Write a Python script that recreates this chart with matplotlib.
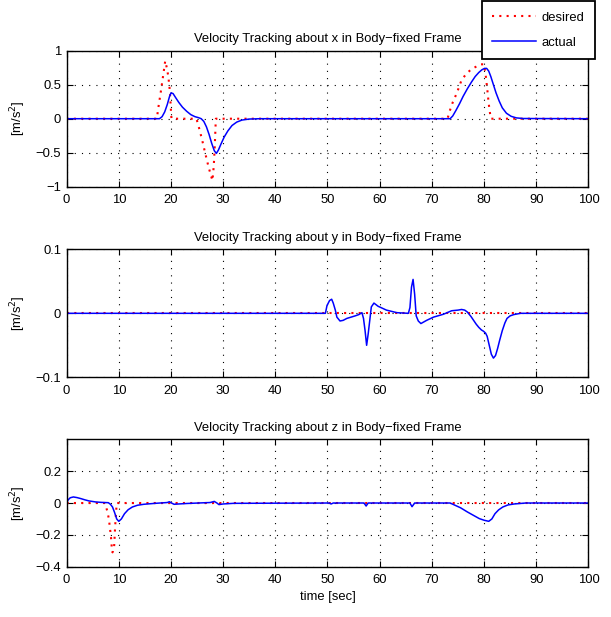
import matplotlib
matplotlib.use("Agg")
import matplotlib.pyplot as plt

plt.rcParams['font.family'] = ['Liberation Sans', 'DejaVu Sans']
plt.rcParams['axes.unicode_minus'] = True

# ---- x axis (surge) ----
tx_des = [0, 17.3, 17.5, 17.8, 18.1, 18.4, 18.7, 18.9, 19.2, 19.5, 19.8, 20.0, 20.1,
          24.9, 25.1, 25.4, 25.7, 26.0, 26.3, 26.6, 26.9, 27.2, 27.5, 27.8, 27.95, 28.2, 28.4, 28.6,
          73.0, 73.5, 74.0, 74.8, 75.7, 76.6, 77.6, 78.6, 79.4, 80.0, 80.3, 80.6, 80.9, 81.2, 81.3, 100]
vx_des = [0, 0, 0.12, 0.27, 0.42, 0.58, 0.74, 0.85, 0.75, 0.62, 0.40, 0.12, 0,
          0, -0.06, -0.14, -0.23, -0.32, -0.42, -0.52, -0.61, -0.71, -0.79, -0.87, -0.91, -0.70, -0.40, 0,
          0, 0.13, 0.24, 0.38, 0.57, 0.66, 0.73, 0.77, 0.80, 0.80, 0.65, 0.45, 0.22, 0.05, 0, 0]
tx_act = [0, 17.8, 18.3, 18.8, 19.3, 19.7, 20.0, 20.4, 20.9, 21.5, 22.2, 23.0, 23.8, 24.6, 25.3,
          25.8, 26.3, 26.8, 27.3, 27.8, 28.3, 28.7, 29.1, 29.6, 30.2, 30.9, 31.7, 32.6, 33.6, 35.0, 37.0,
          73.5, 74.0, 74.6, 75.3, 76.0, 76.8, 77.6, 78.3, 79.0, 79.6, 80.1, 80.5, 80.9, 81.3, 81.8,
          82.3, 82.9, 83.5, 84.3, 85.2, 86.2, 87.5, 100]
vx_act = [0, 0, 0.03, 0.10, 0.21, 0.32, 0.38, 0.37, 0.31, 0.24, 0.17, 0.11, 0.06, 0.03, 0.015,
          0.0, -0.04, -0.12, -0.23, -0.36, -0.47, -0.51, -0.46, -0.37, -0.27, -0.18, -0.10, -0.05, -0.02, -0.005, 0,
          0, 0.04, 0.12, 0.22, 0.33, 0.44, 0.54, 0.62, 0.68, 0.72, 0.74, 0.74, 0.70, 0.62, 0.50,
          0.38, 0.26, 0.16, 0.08, 0.035, 0.012, 0.003, 0]

# ---- y axis (sway) ----
ty_des = [0, 100]
vy_des = [0, 0]
ty_act = [0, 49.6, 49.9, 50.4, 50.8, 51.1, 51.5, 51.8, 52.4, 53.0, 53.7, 54.5, 55.3, 56.0, 56.6,
          56.9, 57.2, 57.5, 57.8, 58.1, 58.4, 58.9, 59.7, 60.5, 61.3, 62.3, 63.3, 65.5,
          65.8, 66.1, 66.4, 66.7, 67.0, 67.4, 67.9, 69.0, 70.3, 72.2, 73.8, 75.0, 75.7, 76.3,
          76.8, 77.5, 78.0, 78.5, 79.0, 79.5, 79.9, 80.3, 80.6, 81.0, 81.4, 81.8, 82.2, 82.6,
          83.0, 83.5, 84.0, 84.4, 85.0, 85.7, 87.0, 100]
vy_act = [0, 0, 0.012, 0.020, 0.022, 0.016, 0.005, -0.006, -0.012, -0.011, -0.008, -0.006, -0.004, -0.002, 0.001,
          -0.008, -0.027, -0.050, -0.032, -0.011, 0.010, 0.016, 0.011, 0.008, 0.005, 0.003, 0.001, 0,
          0.009, 0.041, 0.053, 0.030, -0.004, -0.012, -0.016, -0.011, -0.006, -0.0015, 0.004, 0.005, 0.006, 0.005,
          0.002, -0.005, -0.011, -0.017, -0.022, -0.026, -0.028, -0.031, -0.036, -0.050, -0.064, -0.070, -0.066, -0.055,
          -0.042, -0.027, -0.015, -0.008, -0.004, -0.002, 0, 0]

# ---- z axis (heave) ----
tz_des = [0, 7.3, 7.8, 8.1, 8.3, 8.5, 8.7, 8.8, 9.1, 9.3, 9.6, 100]
vz_des = [0, 0, -0.05, -0.10, -0.155, -0.21, -0.30, -0.31, -0.28, -0.15, 0, 0]
tz_act = [0, 0.3, 0.7, 1.3, 2.0, 2.8, 3.5, 4.3, 5.5, 6.6, 8.0, 8.4, 8.8, 9.2, 9.6, 10.0, 10.5, 11.1, 11.8, 12.6,
          13.6, 14.8, 17.0, 19.3, 19.7, 20.1, 20.6, 21.5, 23.0, 27.5, 28.3, 28.8, 29.2, 30.0, 32.0, 50.3, 50.7, 51.1,
          57.0, 57.4, 57.8, 65.8, 66.2, 66.7, 73.5, 74.5, 75.5, 76.8, 78.0, 79.1, 80.0, 80.9, 81.5, 82.1,
          82.8, 83.6, 84.6, 85.8, 88.0, 100]
vz_act = [0, 0.02, 0.033, 0.038, 0.034, 0.027, 0.02, 0.013, 0.007, 0.004, 0.002, -0.008, -0.025, -0.06, -0.1,
          -0.115, -0.1, -0.067, -0.042, -0.025, -0.014, -0.008, -0.002, 0.003, 0.008, 0.0, -0.008, -0.006, -0.003,
          0.003, 0.01, 0.0, -0.01, -0.006, -0.002, 0, -0.006, 0, 0, -0.019, 0, 0, -0.023, 0, 0, -0.015, -0.03,
          -0.056, -0.078, -0.098, -0.108, -0.115, -0.1, -0.067, -0.043, -0.025, -0.012, -0.006, 0, 0]

titles = ['Velocity Tracking about x in Body\u2212fixed Frame',
          'Velocity Tracking about y in Body\u2212fixed Frame',
          'Velocity Tracking about z in Body\u2212fixed Frame']
yticks = [[-1, -0.5, 0, 0.5, 1], [-0.1, 0, 0.1], [-0.4, -0.2, 0, 0.2]]
ytick_labels = [['\u22121', '\u22120.5', '0', '0.5', '1'],
                ['\u22120.1', '0', '0.1'],
                ['\u22120.4', '\u22120.2', '0', '0.2']]
ylims = [(-1, 1), (-0.1, 0.1), (-0.4, 0.4)]
xticks = list(range(0, 101, 10))

series = [(tx_des, vx_des, tx_act, vx_act),
          (ty_des, vy_des, ty_act, vy_act),
          (tz_des, vz_des, tz_act, vz_act)]

fs = 9.4
fig = plt.figure(figsize=(6.11, 6.17), dpi=100)
boxes = [[0.109, 0.6974, 0.854, 0.2204],
         [0.109, 0.3885, 0.854, 0.2074],
         [0.109, 0.0815, 0.854, 0.2065]]

axes = []
for i in range(3):
    ax = fig.add_axes(boxes[i])
    td, vd, ta, va = series[i]
    ax.plot(td, vd, color='red', lw=1.5, linestyle=(0, (1, 2.5)), label='desired')
    ax.plot(ta, va, color='blue', lw=1.1, label='actual')
    ax.set_xlim(0, 100)
    ax.set_ylim(*ylims[i])
    ax.set_xticks(xticks)
    ax.set_xticklabels([str(x) for x in xticks], fontsize=fs)
    ax.set_yticks(yticks[i])
    ax.set_yticklabels(ytick_labels[i], fontsize=fs)
    ax.tick_params(direction='in', top=True, right=True, length=4, width=0.8)
    ax.tick_params(axis='x', pad=5.5)
    ax.tick_params(axis='y', pad=4)
    ax.grid(True, color='black', linestyle=(0, (1, 5.5)), lw=0.8)
    for s in ax.spines.values():
        s.set_linewidth(1.0)
    ax.set_title(titles[i], fontsize=fs, pad=6)
    ax.set_ylabel('[m/s$^2$]', fontsize=fs)
    ax.yaxis.set_label_coords(-0.074, 0.5)
    axes.append(ax)

axes[2].set_xlabel('time [sec]', fontsize=fs, labelpad=3)

leg = axes[0].legend(loc='lower right', bbox_to_anchor=(594.5 / 611, 1 - 59 / 617),
                     bbox_transform=fig.transFigure, borderaxespad=0, fontsize=fs,
                     handlelength=3.35, handletextpad=0.4, labelspacing=0.95,
                     fancybox=False, framealpha=1, edgecolor='black', borderpad=0.8)
leg.get_frame().set_linewidth(1.3)
leg.set_zorder(5)

fig.savefig('out.png', dpi=100)
